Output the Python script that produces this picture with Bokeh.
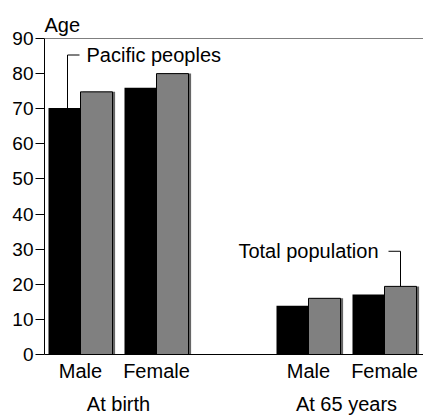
import numpy as np
from bokeh.plotting import figure
from bokeh.models import Range1d, FixedTicker, LinearAxis, Span, ColumnDataSource, Title
from bokeh.transform import dodge
from bokeh.core.properties import value
from bokeh.embed import file_html
from bokeh.resources import INLINE

# ---- data ----
groups = ["At birth", "At 65 years"]
sexes = ["Male", "Female"]
series = ["Pacific peoples", "Total population"]
pacific_peoples = [70.2, 76.0, 13.9, 17.1]   # birth M, birth F, 65 M, 65 F
total_population = [74.8, 80.0, 16.0, 19.4]
y_ticks = [0, 10, 20, 30, 40, 50, 60, 70, 80, 90]

# ---- layout constants (x in 2px units) ----
FIRST, SEX_STEP, GROUP_STEP, BAR_W = 18, 38, 114, 16
FONT = "Liberation Sans"

centers = [FIRST + g * GROUP_STEP + s * SEX_STEP for g in range(len(groups)) for s in range(len(sexes))]
sex_labels = [s for _ in groups for s in sexes]
group_centers = [float(np.mean(centers[2 * g:2 * g + 2])) for g in range(len(groups))]

src = ColumnDataSource(dict(x=centers, pacific=pacific_peoples, total=total_population))

p = figure(width=423, height=417, x_range=Range1d(0, 189.5), y_range=Range1d(0, 90),
           output_backend="svg", toolbar_location=None,
           x_axis_type=None, y_axis_type=None,
           min_border_left=44, min_border_right=0, min_border_top=38, min_border_bottom=61)
p.outline_line_color = None
p.background_fill_color = "white"

p.title = Title(text="Age", align="left", text_font=FONT, text_font_size="20px",
                text_font_style="normal", text_color="black", standoff=6, offset=0)

# y axis
yax = LinearAxis(ticker=FixedTicker(ticks=y_ticks))
yax.major_tick_out = 9
yax.major_tick_in = 0
yax.minor_tick_line_color = None
yax.major_label_standoff = 2
yax.major_label_text_font = FONT
yax.major_label_text_font_size = "19px"
yax.major_label_text_color = "black"
yax.axis_line_color = "black"
yax.major_tick_line_color = "black"
p.add_layout(yax, "left")

# x axis (sex labels)
xax1 = LinearAxis(ticker=FixedTicker(ticks=centers, minor_ticks=[]),
                  major_label_overrides={c: l for c, l in zip(centers, sex_labels)})
xax1.major_tick_out = 0
xax1.major_tick_in = 0
xax1.major_tick_line_color = None
xax1.minor_tick_line_color = None
xax1.major_label_standoff = 5
xax1.major_label_text_font = FONT
xax1.major_label_text_font_size = "20px"
xax1.major_label_text_color = "black"
xax1.axis_line_color = "black"
p.add_layout(xax1, "below")

# x axis (group labels)
xax2 = LinearAxis(ticker=FixedTicker(ticks=group_centers, minor_ticks=[]),
                  major_label_overrides={c: l for c, l in zip(group_centers, groups)})
xax2.major_tick_out = 0
xax2.major_tick_in = 0
xax2.major_tick_line_color = None
xax2.minor_tick_line_color = None
xax2.axis_line_color = None
xax2.major_label_standoff = 8
xax2.major_label_text_font = FONT
xax2.major_label_text_font_size = "20px"
xax2.major_label_text_color = "black"
p.add_layout(xax2, "below")

# top line
p.add_layout(Span(location=y_ticks[-1], dimension="width", line_color="black", line_width=1))

# bars
p.vbar(x=dodge("x", BAR_W / 2 + 1.3, range=p.x_range), top="total", width=BAR_W, source=src,
       fill_color="#666666", line_color=None)
p.vbar(x=dodge("x", BAR_W / 2, range=p.x_range), top="total", width=BAR_W, source=src,
       fill_color="#808080", line_color="black", line_width=1)
p.vbar(x=dodge("x", -BAR_W / 2, range=p.x_range), top="pacific", width=BAR_W, source=src,
       fill_color="black", line_color=None)

# annotation leaders
PAC_LEVEL, TOT_LEVEL = 85.3, 29.4
xp = centers[0] - BAR_W / 2 + 1.5
p.line(x=[xp, xp, xp + 6], y=[pacific_peoples[0], PAC_LEVEL, PAC_LEVEL], line_color="black", line_width=1)
p.text(x=[xp + 9.5], y=[PAC_LEVEL], text=[series[0]], text_baseline="middle", text_align="left",
       text_font=value(FONT), text_font_size="20px", text_color="black")

xt = centers[3] + BAR_W / 2
p.line(x=[xt, xt, xt - 6], y=[total_population[3], TOT_LEVEL, TOT_LEVEL], line_color="black", line_width=1)
p.text(x=[xt - 11], y=[TOT_LEVEL], text=[series[1]], text_baseline="middle", text_align="right",
       text_font=value(FONT), text_font_size="20px", text_color="black")

open("out.html", "w").write(file_html(p, INLINE))
